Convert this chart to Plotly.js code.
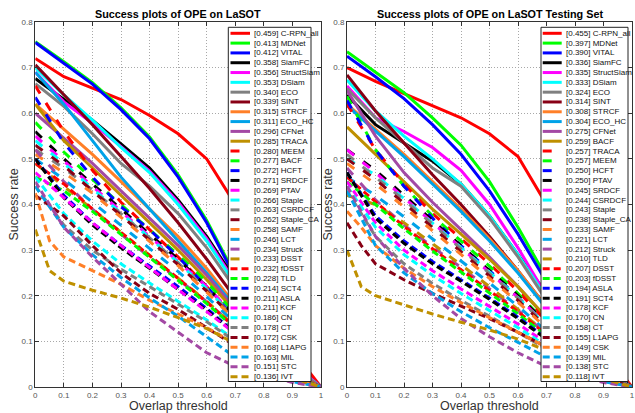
<!DOCTYPE html>
<html><head><meta charset="utf-8">
<script src="https://cdn.plot.ly/plotly-3.0.1.min.js"></script>
<style>html,body{margin:0;padding:0;background:#fff}#chart{width:635px;height:413px}</style>
</head><body><div id="chart"></div>
<script>
// ---------- DATA ----------
const thresholds = [0, 0.1, 0.2, 0.3, 0.4, 0.5, 0.6, 0.7, 0.8, 0.9, 1];
const thresholdsFine = [0, 0.05, 0.1, 0.2, 0.3, 0.4, 0.5, 0.6, 0.7, 0.8, 0.9, 1];
const xTickVals = [0, 0.1, 0.2, 0.3, 0.4, 0.5, 0.6, 0.7, 0.8, 0.9, 1];
const xTickLabels = ['0', '0.1', '0.2', '0.3', '0.4', '0.5', '0.6', '0.7', '0.8', '0.9', '1'];
const yTickVals = [0, 0.1, 0.2, 0.3, 0.4, 0.5, 0.6, 0.7, 0.8];
const yTickLabels = ['0', '0.1', '0.2', '0.3', '0.4', '0.5', '0.6', '0.7', '0.8'];

const lasotTrackers = ['C-RPN_all','MDNet','VITAL','SiamFC','StructSiam','DSiam','ECO','SINT','STRCF','ECO_HC','CFNet','TRACA',
  'MEEM','BACF','HCFT','SRDCF','PTAV','Staple','CSRDCF','Staple_CA','SAMF','LCT','Struck','DSST',
  'fDSST','TLD','SCT4','ASLA','KCF','CN','CT','CSK','L1APG','MIL','STC','IVT'];
const lasotScores = [0.459,0.413,0.412,0.358,0.356,0.353,0.340,0.339,0.315,0.311,0.296,0.285,
  0.280,0.277,0.272,0.271,0.269,0.266,0.263,0.262,0.258,0.246,0.234,0.233,
  0.232,0.228,0.214,0.211,0.211,0.186,0.178,0.172,0.168,0.163,0.151,0.136];
const lasotCurves = [
  [0.72,0.68,0.655,0.63,0.595,0.555,0.50,0.40,0.22,0.08,0],
  [0.757,0.713,0.667,0.612,0.548,0.465,0.365,0.245,0.135,0.05,0],
  [0.755,0.71,0.664,0.608,0.544,0.46,0.36,0.24,0.13,0.048,0],
  [0.676,0.63,0.585,0.533,0.48,0.41,0.33,0.235,0.12,0.04,0],
  [0.69,0.625,0.578,0.527,0.473,0.405,0.325,0.23,0.13,0.05,0],
  [0.70,0.64,0.585,0.525,0.47,0.40,0.32,0.225,0.125,0.045,0],
  [0.665,0.615,0.555,0.49,0.44,0.38,0.305,0.215,0.125,0.045,0],
  [0.706,0.64,0.575,0.505,0.435,0.36,0.28,0.195,0.10,0.035,0],
  [0.62,0.565,0.51,0.45,0.39,0.33,0.26,0.18,0.10,0.035,0],
  [0.69,0.62,0.54,0.46,0.39,0.32,0.25,0.175,0.10,0.035,0],
  [0.60,0.545,0.49,0.43,0.37,0.31,0.245,0.17,0.095,0.035,0],
  [0.62,0.54,0.48,0.42,0.36,0.30,0.235,0.165,0.09,0.03,0],
  [0.66,0.56,0.475,0.405,0.345,0.285,0.22,0.15,0.08,0.025,0],
  [0.58,0.515,0.455,0.40,0.345,0.29,0.23,0.16,0.09,0.03,0],
  [0.635,0.535,0.46,0.395,0.345,0.285,0.22,0.15,0.08,0.025,0],
  [0.56,0.50,0.445,0.39,0.335,0.28,0.22,0.155,0.085,0.03,0],
  [0.55,0.495,0.44,0.385,0.33,0.277,0.22,0.155,0.085,0.03,0],
  [0.54,0.49,0.435,0.38,0.327,0.273,0.215,0.152,0.085,0.03,0],
  [0.52,0.48,0.432,0.38,0.327,0.272,0.213,0.15,0.083,0.03,0],
  [0.53,0.485,0.43,0.375,0.322,0.268,0.21,0.148,0.083,0.03,0],
  [0.51,0.47,0.425,0.372,0.32,0.266,0.208,0.147,0.082,0.03,0],
  [0.50,0.455,0.405,0.355,0.305,0.253,0.198,0.14,0.078,0.028,0],
  [0.52,0.45,0.39,0.335,0.285,0.237,0.187,0.132,0.075,0.027,0],
  [0.49,0.44,0.39,0.34,0.29,0.24,0.188,0.132,0.073,0.026,0],
  [0.49,0.445,0.39,0.338,0.288,0.238,0.186,0.13,0.072,0.025,0],
  [0.46,0.43,0.385,0.335,0.285,0.235,0.183,0.128,0.07,0.025,0],
  [0.50,0.42,0.36,0.31,0.265,0.22,0.172,0.12,0.066,0.023,0],
  [0.50,0.415,0.355,0.305,0.26,0.215,0.168,0.118,0.065,0.022,0],
  [0.47,0.415,0.36,0.31,0.262,0.215,0.167,0.117,0.064,0.022,0],
  [0.46,0.38,0.32,0.27,0.228,0.188,0.147,0.103,0.057,0.02,0],
  [0.44,0.355,0.30,0.258,0.22,0.182,0.143,0.10,0.056,0.02,0],
  [0.42,0.375,0.31,0.25,0.205,0.17,0.13,0.09,0.05,0.018,0],
  [0.425,0.32,0.285,0.255,0.225,0.19,0.16,0.13,0.095,0.055,0.02,0],
  [0.44,0.35,0.29,0.24,0.195,0.155,0.11,0.065,0.035,0.012,0],
  [0.45,0.35,0.285,0.225,0.165,0.12,0.075,0.045,0.025,0.01,0],
  [0.345,0.255,0.232,0.212,0.195,0.175,0.152,0.128,0.095,0.055,0.02,0]
];

const testTrackers = ['C-RPN_all','MDNet','VITAL','SiamFC','StructSiam','DSiam','ECO','SINT','STRCF','ECO_HC','CFNet','BACF',
  'TRACA','MEEM','HCFT','PTAV','SRDCF','CSRDCF','Staple','Staple_CA','SAMF','LCT','Struck','TLD',
  'DSST','fDSST','ASLA','SCT4','KCF','CN','CT','L1APG','CSK','MIL','STC','IVT'];
const testScores = [0.455,0.397,0.390,0.336,0.335,0.333,0.324,0.314,0.308,0.304,0.275,0.259,
  0.257,0.257,0.250,0.250,0.245,0.244,0.243,0.238,0.233,0.221,0.212,0.210,
  0.207,0.203,0.194,0.191,0.178,0.170,0.158,0.155,0.149,0.139,0.138,0.118];
const testCurves = [
  [0.70,0.67,0.643,0.617,0.59,0.555,0.505,0.40,0.23,0.08,0],
  [0.735,0.69,0.645,0.59,0.53,0.45,0.35,0.24,0.125,0.045,0],
  [0.725,0.68,0.632,0.575,0.51,0.43,0.335,0.23,0.12,0.042,0],
  [0.64,0.575,0.535,0.495,0.445,0.375,0.29,0.205,0.115,0.04,0],
  [0.66,0.59,0.56,0.525,0.475,0.40,0.305,0.20,0.10,0.03,0],
  [0.673,0.605,0.55,0.50,0.445,0.375,0.29,0.195,0.10,0.03,0],
  [0.654,0.59,0.535,0.48,0.44,0.37,0.285,0.19,0.10,0.03,0],
  [0.684,0.605,0.535,0.465,0.40,0.33,0.255,0.175,0.09,0.028,0],
  [0.62,0.565,0.51,0.45,0.39,0.325,0.255,0.175,0.095,0.03,0],
  [0.617,0.56,0.505,0.445,0.385,0.32,0.25,0.172,0.093,0.03,0],
  [0.65,0.55,0.47,0.405,0.345,0.285,0.22,0.152,0.082,0.027,0],
  [0.57,0.51,0.45,0.39,0.335,0.28,0.22,0.152,0.083,0.027,0],
  [0.62,0.52,0.445,0.38,0.325,0.27,0.21,0.145,0.078,0.025,0],
  [0.637,0.52,0.44,0.375,0.32,0.265,0.205,0.14,0.075,0.024,0],
  [0.628,0.52,0.44,0.37,0.31,0.255,0.197,0.135,0.072,0.023,0],
  [0.52,0.475,0.42,0.365,0.31,0.257,0.20,0.14,0.076,0.025,0],
  [0.52,0.47,0.415,0.36,0.305,0.252,0.196,0.137,0.074,0.024,0],
  [0.50,0.465,0.413,0.36,0.305,0.252,0.196,0.136,0.074,0.024,0],
  [0.51,0.46,0.41,0.357,0.303,0.25,0.195,0.135,0.073,0.024,0],
  [0.50,0.455,0.403,0.35,0.297,0.245,0.19,0.132,0.072,0.023,0],
  [0.49,0.445,0.395,0.343,0.29,0.24,0.186,0.129,0.07,0.022,0],
  [0.46,0.42,0.373,0.325,0.277,0.228,0.177,0.123,0.067,0.021,0],
  [0.48,0.41,0.355,0.307,0.262,0.216,0.168,0.117,0.064,0.02,0],
  [0.42,0.40,0.36,0.315,0.268,0.22,0.17,0.117,0.063,0.02,0],
  [0.46,0.405,0.352,0.303,0.257,0.212,0.165,0.115,0.062,0.02,0],
  [0.45,0.40,0.347,0.298,0.252,0.207,0.16,0.112,0.06,0.019,0],
  [0.47,0.375,0.32,0.275,0.235,0.195,0.153,0.107,0.058,0.018,0],
  [0.47,0.37,0.315,0.27,0.232,0.192,0.15,0.105,0.057,0.018,0],
  [0.45,0.36,0.30,0.255,0.215,0.177,0.138,0.097,0.053,0.017,0],
  [0.44,0.35,0.29,0.245,0.205,0.168,0.13,0.09,0.05,0.016,0],
  [0.43,0.33,0.27,0.227,0.19,0.155,0.12,0.083,0.046,0.015,0],
  [0.36,0.31,0.27,0.235,0.205,0.178,0.15,0.12,0.088,0.055,0.02,0],
  [0.385,0.35,0.31,0.26,0.22,0.185,0.152,0.12,0.088,0.055,0.02,0],
  [0.43,0.31,0.25,0.205,0.165,0.13,0.098,0.065,0.035,0.012,0],
  [0.44,0.33,0.26,0.20,0.15,0.11,0.075,0.045,0.025,0.01,0],
  [0.30,0.22,0.20,0.18,0.16,0.142,0.125,0.105,0.08,0.05,0.018,0]
];

// ---------- STYLE ----------
const palette = ['#ff0000','#00ff00','#0000ff','#000000','#ff00ff','#00ffff','#808080','#880015','#ff7f27','#00a2e8','#a349a4','#bf9000'];
const dashes = ['solid','9px,11px','7px,4px'];
const W = 635, H = 413;
const PX = v => v / W, PY = v => 1 - v / H;
const FONT = 'Liberation Sans, Arial, Helvetica, sans-serif';

const panels = [
  {names: lasotTrackers, scores: lasotScores, curves: lasotCurves, xa: 'x', ya: 'y',
   title: 'Success plots of OPE on LaSOT', cx: 178.2, legL: 228.3, legR: 311, s0: 230.5, s1: 250, tx: 252, yTitleX: 14},
  {names: testTrackers, scores: testScores, curves: testCurves, xa: 'x2', ya: 'y2',
   title: 'Success plots of OPE on LaSOT Testing Set', cx: 489.5, legL: 541, legR: 628, s0: 542.7, s1: 561.7, tx: 563.5, yTitleX: 328}
];

const traces = [], shapes = [], annotations = [];
panels.forEach(p => {
  p.curves.forEach((ys, i) => {
    traces.push({
      x: ys.length === thresholdsFine.length ? thresholdsFine : thresholds,
      y: ys, xaxis: p.xa, yaxis: p.ya, type: 'scatter', mode: 'lines',
      name: p.names[i], showlegend: false, hoverinfo: 'skip',
      line: {color: palette[i % 12], width: 3, dash: dashes[Math.floor(i / 12)]}
    });
  });
  shapes.push({type: 'rect', xref: 'paper', yref: 'paper', layer: 'above',
    x0: PX(p.legL), x1: PX(p.legR), y0: PY(381.5), y1: PY(27.3),
    fillcolor: '#ffffff', line: {color: '#222', width: 1}});
  p.names.forEach((n, i) => {
    const yy = 33.3 + i * 9.81;
    shapes.push({type: 'line', xref: 'paper', yref: 'paper', layer: 'above',
      x0: PX(p.s0), x1: PX(p.s1), y0: PY(yy), y1: PY(yy),
      line: {color: palette[i % 12], width: 3, dash: dashes[Math.floor(i / 12)]}});
    annotations.push({xref: 'paper', yref: 'paper', x: PX(p.tx), y: PY(yy), xanchor: 'left', yanchor: 'middle',
      text: '[' + p.scores[i].toFixed(3) + '] ' + n, showarrow: false,
      font: {family: FONT, size: 8, color: '#111'}});
  });
  annotations.push({xref: 'paper', yref: 'paper', x: PX(p.cx), y: PY(14), xanchor: 'center', yanchor: 'middle',
    text: '<b>' + p.title + '</b>', showarrow: false, font: {family: FONT, size: 10.8, color: '#000'}});
  annotations.push({xref: 'paper', yref: 'paper', x: PX(p.cx), y: PY(406), xanchor: 'center', yanchor: 'middle',
    text: 'Overlap threshold', showarrow: false, font: {family: FONT, size: 12.5, color: '#333'}});
  annotations.push({xref: 'paper', yref: 'paper', x: PX(p.yTitleX), y: PY(204.5), xanchor: 'center', yanchor: 'middle',
    text: 'Success rate', textangle: -90, showarrow: false, font: {family: FONT, size: 12.5, color: '#333'}});
});

const common = {
  ticks: 'inside', ticklen: 4, tickcolor: '#333', showline: true, linecolor: '#333', linewidth: 1,
  mirror: 'ticks', showgrid: true, gridcolor: '#a8a8a8', griddash: '1px,2px', gridwidth: 1,
  zeroline: false, fixedrange: true, tickfont: {family: FONT, size: 8, color: '#555'}
};
const xCommon = Object.assign({}, common, {range: [0, 1], tickvals: xTickVals, ticktext: xTickLabels});
const yCommon = Object.assign({}, common, {range: [0, 0.8], tickvals: yTickVals, ticktext: yTickLabels});
const yDom = [1 - 387 / H, 1 - 22 / H];

const layout = {
  width: W, height: H, margin: {l: 0, r: 0, t: 0, b: 0},
  paper_bgcolor: '#fff', plot_bgcolor: '#fff', showlegend: false,
  xaxis: Object.assign({}, xCommon, {domain: [35.3 / W, 321 / W], anchor: 'y'}),
  yaxis: Object.assign({}, yCommon, {domain: yDom, anchor: 'x'}),
  xaxis2: Object.assign({}, xCommon, {domain: [347 / W, 632 / W], anchor: 'y2'}),
  yaxis2: Object.assign({}, yCommon, {domain: yDom, anchor: 'x2'}),
  shapes: shapes, annotations: annotations
};
Plotly.newPlot('chart', traces, layout, {staticPlot: true, displayModeBar: false});
</script></body></html>
